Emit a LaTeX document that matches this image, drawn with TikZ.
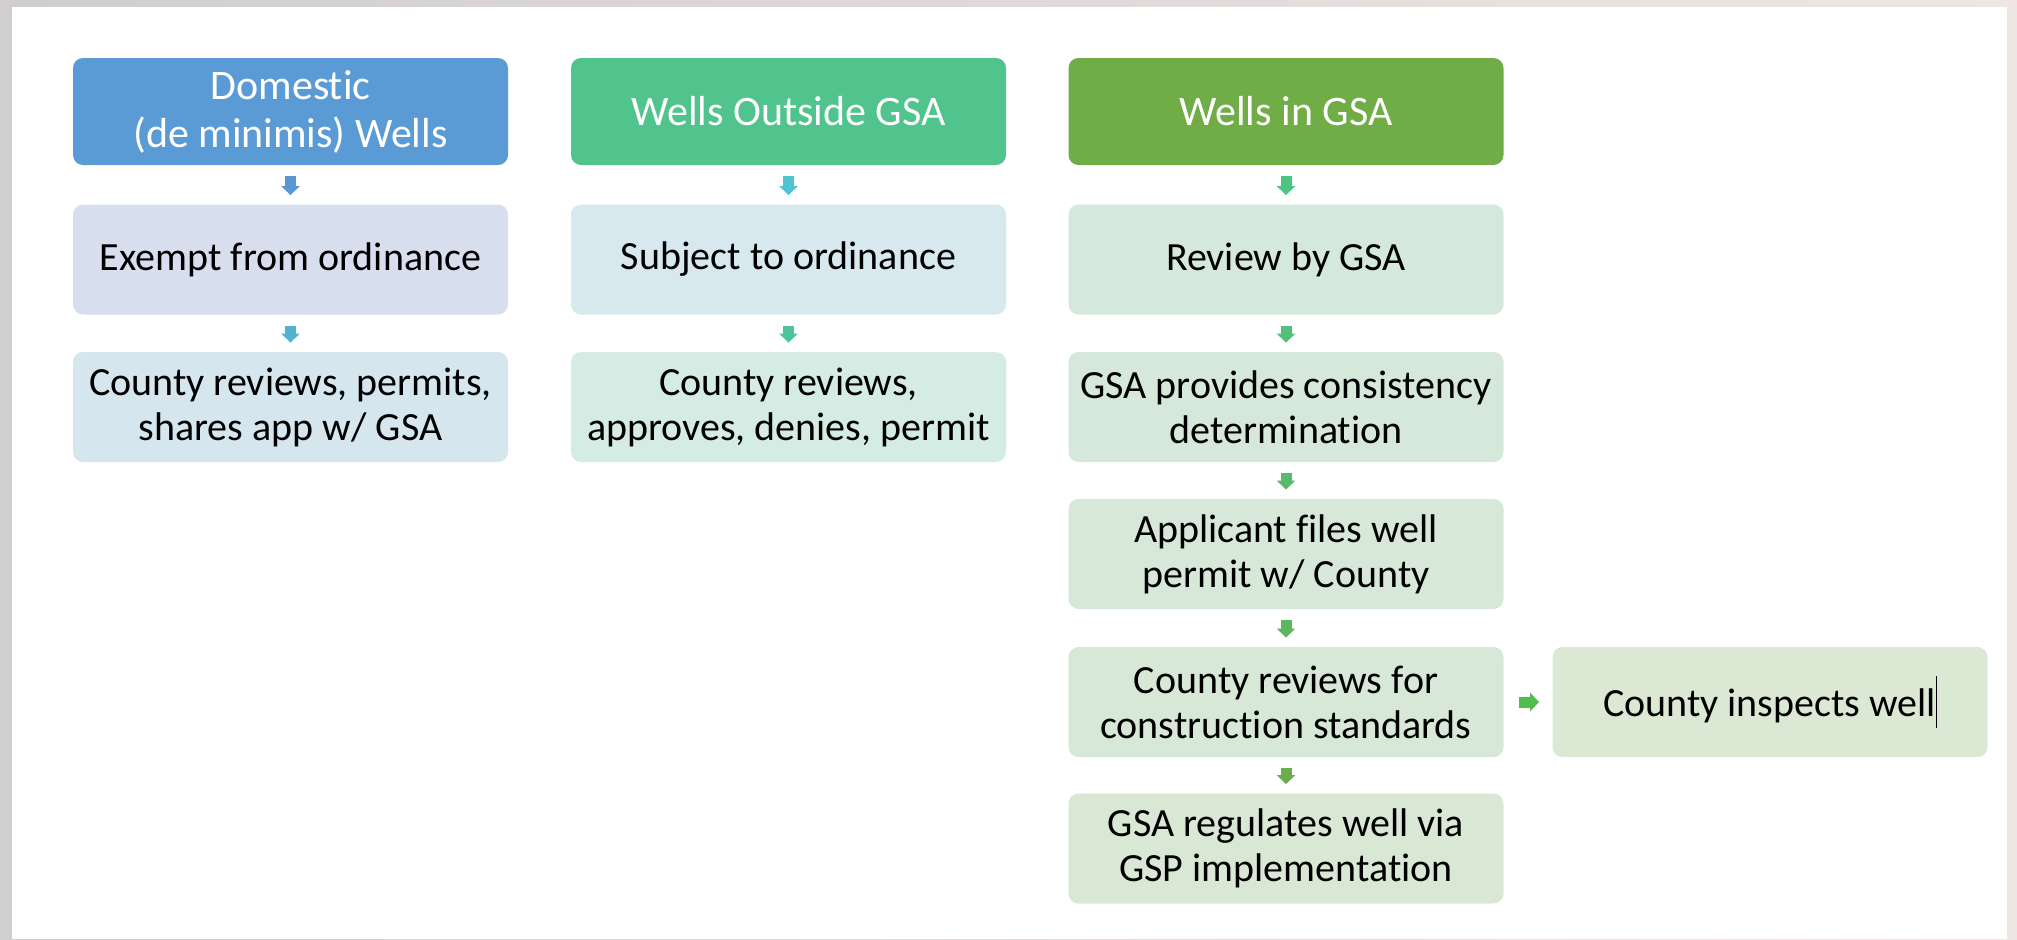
\documentclass[tikz,border=0pt]{standalone}
\usepackage{fontspec}
\setmainfont{Carlito}[Ligatures={NoCommon,NoContextual}]
\usetikzlibrary{arrows.meta}
\definecolor{frameL}{HTML}{D0CECE}
\definecolor{frameR}{HTML}{EDE6E4}
\definecolor{hblue}{HTML}{5B9BD5}
\definecolor{hteal}{HTML}{50C48C}
\definecolor{hgreen}{HTML}{70AD47}
\definecolor{fa}{HTML}{D7DFEF}
\definecolor{fb}{HTML}{D6E6EE}
\definecolor{fc}{HTML}{D7E9EE}
\definecolor{fd}{HTML}{D4ECE4}
\definecolor{fe}{HTML}{D5E8DD}
\definecolor{ff}{HTML}{D6E8DA}
\definecolor{fg}{HTML}{D7E8D8}
\definecolor{fh}{HTML}{D8E8D6}
\definecolor{fi}{HTML}{D9E8D4}
\definecolor{fj}{HTML}{DAE8D4}
\definecolor{aa}{HTML}{5A96D2}
\definecolor{ab}{HTML}{52B3CF}
\definecolor{ac}{HTML}{4FC3D2}
\definecolor{ad}{HTML}{4DC39A}
\definecolor{ae}{HTML}{4EC484}
\definecolor{af}{HTML}{52C07A}
\definecolor{ag}{HTML}{58BB6C}
\definecolor{ah}{HTML}{5EB65E}
\definecolor{ai}{HTML}{52BC4C}
\definecolor{aj}{HTML}{6BAF4C}
\begin{document}
\begin{tikzpicture}[x=0.5pt,y=-0.5pt,
  box/.style={rectangle, rounded corners=5pt, minimum width=217.5pt, minimum height=55pt,
    align=center, inner sep=0pt, text=black, font=\fontsize{20}{22.5}\selectfont},
  head/.style={box, text=white, minimum height=53.5pt, font=\fontsize{21}{24}\selectfont},
  flow/.style={line width=5.5pt, -{Triangle[length=4.5pt 0, width=9pt 0]},
    shorten <=5.5pt, shorten >=4.5pt},
  sideflow/.style={flow, shorten <=7.5pt, shorten >=6.5pt}]
\shade[left color=frameL, right color=frameR] (0,0) rectangle (2017,939);
\fill[white] (12,7) rectangle (2007,939);
\useasboundingbox (0,0) rectangle (2017,939);

\node[head, fill=hblue] (h1) at (290.5,111.5) {Domestic\\(de minimis) Wells};
\node[head, fill=hteal] (h2) at (788.5,111.5) {Wells Outside GSA};
\node[head, fill=hgreen] (h3) at (1286,111.5) {Wells in GSA};

\node[box, fill=fa] (a2) at (290.5,259.5) {Exempt from ordinance};
\node[box, fill=fb] (a3) at (290.5,407) {County reviews, permits,\\shares app w/ GSA};

\node[box, fill=fc] (b2) at (788.5,259.5) {Subject to ordinance};
\node[box, fill=fd] (b3) at (788.5,407) {County reviews,\\approves, denies, permit};

\node[box, fill=fe] (c2) at (1286,259.5) {Review by GSA};
\node[box, fill=ff] (c3) at (1286,407) {GSA provides consistency\\determination};
\node[box, fill=fg] (c4) at (1286,554) {Applicant files well\\permit w/ County};
\node[box, fill=fh] (c5) at (1286,702) {County reviews for\\construction standards};
\node[box, fill=fi] (c6) at (1286,848.5) {GSA regulates well via\\GSP implementation};
\node[box, fill=fj] (d5) at (1770,702) {County inspects well\rule[-0.3em]{0.5pt}{1.3em}};

\draw[flow, aa] (h1) -- (a2);
\draw[flow, ab] (a2) -- (a3);
\draw[flow, ac] (h2) -- (b2);
\draw[flow, ad] (b2) -- (b3);
\draw[flow, ae] (h3) -- (c2);
\draw[flow, af] (c2) -- (c3);
\draw[flow, ag] (c3) -- (c4);
\draw[flow, ah] (c4) -- (c5);
\draw[flow, aj] (c5) -- (c6);
\draw[sideflow, ai] (c5) -- (d5);
\end{tikzpicture}
\end{document}
